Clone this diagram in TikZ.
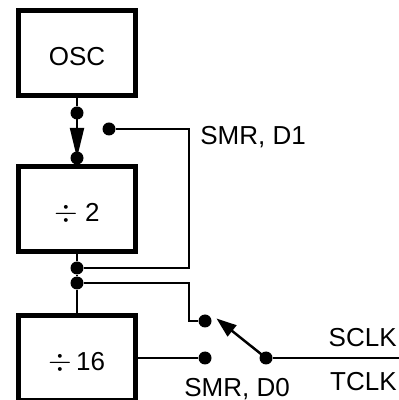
\documentclass[tikz,border=0pt]{standalone}
\usepackage{fontspec}
\setmainfont{Liberation Sans}
\usetikzlibrary{arrows.meta, positioning, calc}
\newcommand{\divsign}{{\fontsize{18}{18}\selectfont$\div$}}

\begin{document}
\begin{tikzpicture}[font=\fontsize{14.8}{18}\selectfont,
    blockbox/.style={draw, line width=2.9pt, minimum width=2.34cm, minimum height=1.7cm, inner sep=0pt, text height=0.5cm, text depth=0pt},
    pin/.style={circle, fill=black, inner sep=0pt, minimum size=0.26cm},
    wire/.style={line width=1.1pt},
    label/.style={inner sep=0pt}]
    \useasboundingbox (0,0) rectangle (7.98,8);
    \node[blockbox] (osc) at (1.54,6.94) {OSC};
    \node[blockbox] (div2) at (1.54,3.82) {\divsign\hspace{4pt}2};
    \node[blockbox, anchor=north] (div16) at (1.54,1.74) {\divsign\hspace{2pt}16};
    % contacts
    \node[pin] (a) at (1.54,5.74) {};
    \node[pin] (b) at (1.54,4.84) {};
    \node[pin] (c) at (2.18,5.42) {};
    \node[pin] (d) at (1.54,2.64) {};
    \node[pin] (e) at (1.54,2.34) {};
    \node[pin] (f) at (4.10,1.58) {};
    \node[pin] (g) at (4.10,0.84) {};
    \node[pin] (h) at (5.32,0.84) {};
    \coordinate (out) at (7.98,0.84);
    \coordinate (tip) at (4.33,1.63);
    \draw[wire] (osc) -- (a);
    \draw[wire, -{Triangle[length=0.6cm, width=0.28cm]}] (a.center) -- (b.center);
    \draw[wire] (c) -| (3.78,2.64) -- (d);
    \draw[wire] (div2) -- (d) -- (e) -- (div16);
    \draw[wire] (e) -| (3.78,1.58) -- (f);
    \draw[wire] (div16.east |- g) -- (g);
    \draw[wire] (h) -- (out);
    \draw[line width=1.4pt, -{Triangle[length=0.4cm, width=0.28cm]}] (h.center) -- (tip);
    % labels
    \node[label, anchor=base west] (smrb) at (4.0,5.1) {SMR, D1};
    \node[label, anchor=base west] (smra) at (3.68,0.06) {SMR, D0};
    \node[label, anchor=base east] (sclk) at (7.94,1.07) {SCLK};
    \node[label, anchor=base east] (tclk) at (7.94,0.2) {TCLK};
\end{tikzpicture}
\end{document}
